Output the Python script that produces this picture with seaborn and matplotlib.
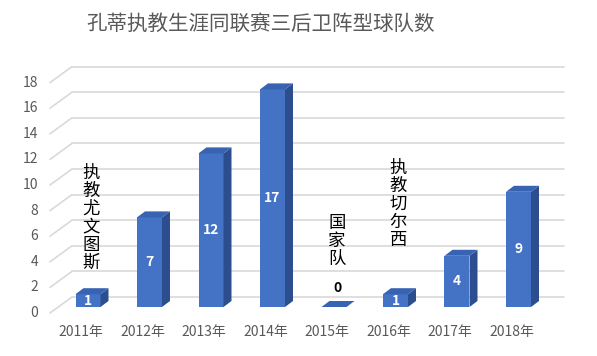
import matplotlib
matplotlib.use('Agg')
import matplotlib.pyplot as plt
from matplotlib.patches import Polygon
import pandas as pd
import seaborn as sns

# data
years = ['2011年', '2012年', '2013年', '2014年', '2015年', '2016年', '2017年', '2018年']
counts = [1, 7, 12, 17, 0, 1, 4, 9]
y_ticks = [0, 2, 4, 6, 8, 10, 12, 14, 16, 18]
notes = ['执教尤文图斯', '国家队', '执教切尔西']
note_years = ['2011年', '2015年', '2016年']
title = '孔蒂执教生涯同联赛三后卫阵型球队数'

# layout (pixels of a 597x356 picture)
W, H = 597, 356
X0, DX = 88.0, 61.5        # first bar centre, bar spacing
Y0, DY = 307.0, 12.8       # bar base, pixels per unit
DEPTH = (8, 6)             # bar side depth
FRONT = (-7, -6)           # front plane (labels) vs bar plane
BACK = (14, 10)            # back wall vs bar plane
WALL_RIGHT = 564
note_tops = [11.2, 7.3, 11.6]

FACE = '#4472C4'
SIDE = '#2D4E8E'
TOP = '#3862B2'
GRID = '#D9D9D9'
TXT = '#595959'

sns.set_theme(style='white')
plt.rcParams['font.family'] = ['Noto Sans CJK SC', 'DejaVu Sans']

fig = plt.figure(figsize=(W / 100, H / 100), dpi=100)
ax = fig.add_axes([0, 0, 1, 1])

ux = 1 / DX   # one pixel in category units
uy = 1 / DY   # one pixel in value units

df = pd.DataFrame({'year': years, 'count': counts})
sns.barplot(data=df, x='year', y='count', color=FACE, width=25 * ux,
            saturation=1, edgecolor='none', ax=ax, zorder=3)

# back wall gridlines and slanted floor-to-wall lines
x_left_front = (50 - X0) * ux
for v in y_ticks:
    yb = v + BACK[1] * uy
    xb = (72 - X0) * ux
    ax.plot([xb, (WALL_RIGHT - X0) * ux], [yb, yb], color=GRID, lw=1.2, zorder=1)
    ax.plot([x_left_front, xb], [v + FRONT[1] * uy, yb], color=GRID, lw=1.2, zorder=1)
    ax.text((38 - X0) * ux, v + FRONT[1] * uy, str(v), ha='right', va='center',
            fontsize=10, color=TXT)

# fake 3D: side and top faces of each bar
ddx, ddy = DEPTH[0] * ux, DEPTH[1] * uy
for p in ax.patches[:len(counts)]:
    x, w, h = p.get_x(), p.get_width(), p.get_height()
    side = Polygon([(x + w, 0), (x + w + ddx, ddy), (x + w + ddx, h + ddy), (x + w, h)],
                   closed=True, facecolor=SIDE, edgecolor='none', zorder=3)
    top = Polygon([(x, h), (x + ddx, h + ddy), (x + w + ddx, h + ddy), (x + w, h)],
                  closed=True, facecolor=TOP, edgecolor='none', zorder=3)
    ax.add_patch(side)
    ax.add_patch(top)

# value labels
for i, v in enumerate(counts):
    if v > 0:
        ax.text(i, v / 2, str(v), ha='center', va='center', fontsize=10,
                fontweight='bold', color='white', zorder=5)
    else:
        ax.text(i + 3 * ux, v + 19 * uy, str(v), ha='center', va='center',
                fontsize=10, fontweight='bold', color='black', zorder=5)

# year labels on the front plane
for i, yr in enumerate(years):
    ax.text(i + FRONT[0] * ux, (Y0 - 332) * uy, yr, ha='center', va='center',
            fontsize=10, color=TXT)

# vertical notes
for txt, yr, top_v in zip(notes, note_years, note_tops):
    i = years.index(yr)
    ax.text(i + 3 * ux, top_v, '\n'.join(txt), ha='center', va='top',
            fontsize=12.5, color='black', linespacing=1.0, zorder=6)

ax.set_xlim((0 - X0) * ux, (W - X0) * ux)
ax.set_ylim((Y0 - H) * uy, Y0 * uy)
ax.axis('off')

fig.text(260.5 / W, 1 - 24 / H, title, ha='center', va='center', fontsize=14.8, color=TXT)

fig.savefig('out.png', dpi=100)
